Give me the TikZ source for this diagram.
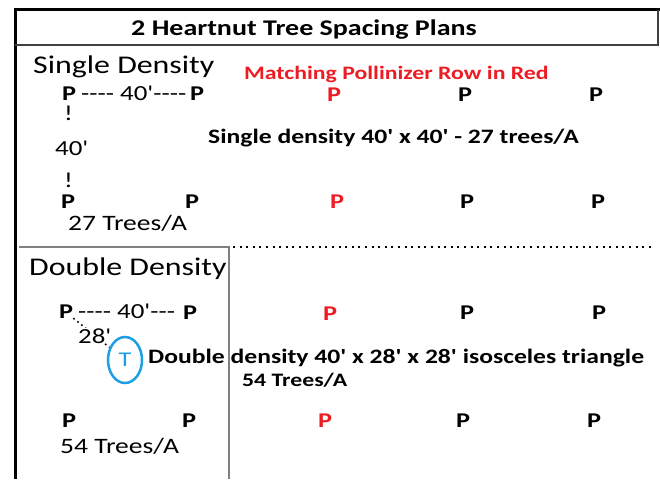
\documentclass[tikz,border=0pt]{standalone}
\usepackage{fontspec}
\setmainfont{Carlito}[FakeStretch=1.25,Ligatures=TeXOff]
\usetikzlibrary{positioning}
\usetikzlibrary{shapes.geometric}
\definecolor{pollred}{HTML}{ED1C24}
\definecolor{treeblue}{HTML}{1C9FE4}
\tikzset{
    txt/.style={inner sep=0pt, anchor=base west},
    tree/.style={txt, font=\fontsize{21}{21}\selectfont\bfseries},
    pollinizer/.style={tree, text=pollred},
    spacing/.style={txt, font=\fontsize{21.5}{22}\selectfont},
    heading/.style={txt, font=\fontsize{25.5}{28}\selectfont},
    note/.style={txt, font=\fontsize{20.5}{22}\selectfont\bfseries}
}

\begin{document}
\begin{tikzpicture}[x=1pt, y=-1pt]
    \useasboundingbox (0,0) rectangle (660,479);
    % Frame and title
    \draw[line width=3pt] (15,479) -- (15,9.5) -- (659.5,9.5);
    \draw[line width=1.2pt, black!75] (658,9.5) -- (658,45) -- (15,45);
    \node[txt, anchor=base, font=\fontsize{22.4}{24}\selectfont\bfseries] (title) at (304,35) {2 Heartnut Tree Spacing Plans};

    % Single density
    \node[heading] (sd) at (33,73) {Single Density};
    \node[txt, text=pollred, font=\fontsize{19}{20}\selectfont\bfseries] (match) at (244,79) {Matching Pollinizer Row in Red};
    \node[tree] (s11) at (62,100) {P};
    \node[spacing] (s1d) at (81,100) {---- 40'----};
    \node[tree] (s12) at (190,100) {P};
    \node[pollinizer] (s13) at (327,101) {P};
    \node[tree] (s14) at (458,101) {P};
    \node[tree] (s15) at (589,101) {P};
    \node[spacing] (bang1) at (64,120) {!};
    \node[spacing] (s40) at (55,155) {40'};
    \node[spacing] (bang2) at (64,187) {!};
    \node[note] (sdnote) at (208,143) {Single density 40' x 40' - 27 trees/A};
    \node[tree] (s21) at (61,208) {P};
    \node[tree] (s22) at (185,208) {P};
    \node[pollinizer] (s23) at (330,208) {P};
    \node[tree] (s24) at (460,208) {P};
    \node[tree] (s25) at (591,208) {P};
    \node[spacing, font=\fontsize{22}{24}\selectfont] (sdrate) at (68,230) {27 Trees/A};

    % Double density
    \draw[line width=2pt, gray] (19,247) -- (229,247) -- (229,479);
    \draw[line width=2pt, dash pattern=on 2pt off 4.6pt] (233,247) -- (652,247);
    \node[heading] (dd) at (29,275) {Double Density};
    \node[tree] (d11) at (59,318) {P};
    \node[spacing] (d1d) at (78,318) {---- 40'---};
    \node[tree] (d12) at (183,319) {P};
    \node[pollinizer] (d13) at (323,320) {P};
    \node[tree] (d14) at (460,319) {P};
    \node[tree] (d15) at (592,319) {P};
    \node[ellipse, draw=treeblue, line width=2.5pt, minimum width=34pt, minimum height=46pt, inner sep=0pt, text=treeblue, font=\fontsize{21}{21}\selectfont] (tnode) at (125,360) {T};
    \draw[line width=1.6pt, dash pattern=on 1.6pt off 3.5pt] (d11.south east) -- (tnode);
    \node[spacing, fill=white] (d28) at (78,343) {28'};
    \node[note] (ddnote) at (148,363) {Double density 40' x 28' x 28' isosceles triangle};
    \node[txt, font=\fontsize{19}{20}\selectfont\bfseries] (ddrate2) at (242,386) {54 Trees/A};
    \node[tree] (d21) at (62,427) {P};
    \node[tree] (d22) at (182,427) {P};
    \node[pollinizer] (d23) at (318,427) {P};
    \node[tree] (d24) at (456,427) {P};
    \node[tree] (d25) at (587,427) {P};
    \node[spacing, font=\fontsize{22}{24}\selectfont] (ddrate) at (60,453) {54 Trees/A};
\end{tikzpicture}
\end{document}
